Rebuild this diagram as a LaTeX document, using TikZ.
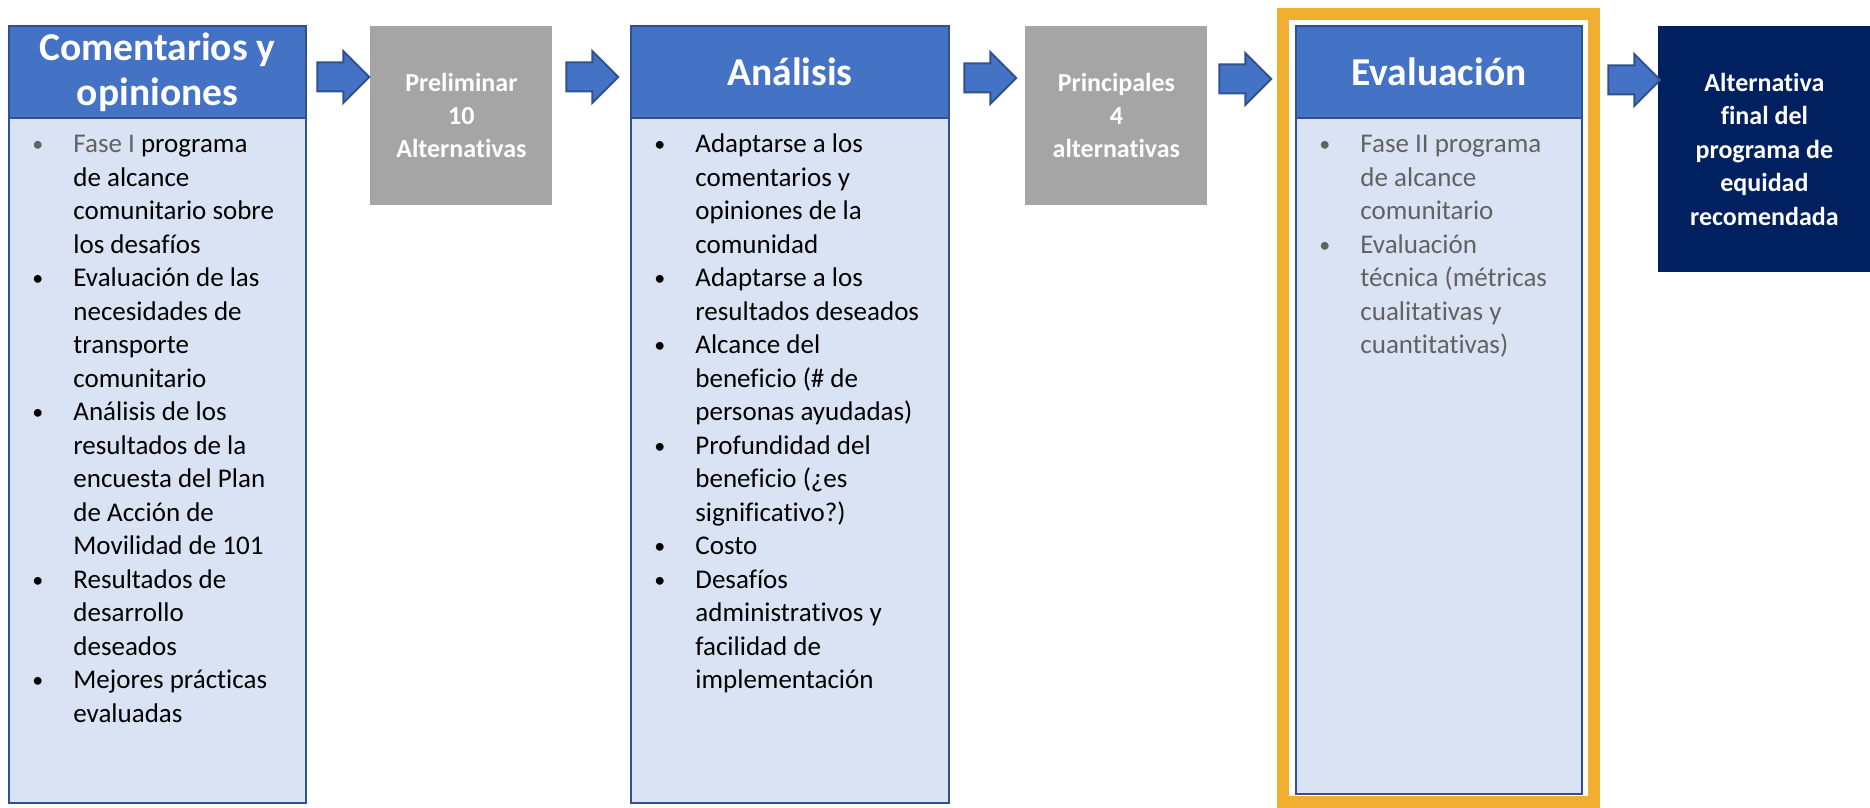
\documentclass[tikz,border=0pt]{standalone}
\usepackage{fontspec}
\setmainfont{Carlito}[Ligatures={NoCommon,NoContextual}]
\usetikzlibrary{shapes.arrows}
\definecolor{hdblue}{HTML}{4472C4}
\definecolor{lineblue}{HTML}{2F528F}
\definecolor{paleblue}{HTML}{DAE3F3}
\definecolor{midgray}{HTML}{A5A5A5}
\definecolor{navy}{HTML}{002060}
\definecolor{gold}{HTML}{F2AE30}
\definecolor{greytext}{HTML}{626262}
\newcommand{\bodylist}[1]{%
  \begin{tabular}[t]{@{}p{20.5pt}@{}l@{}}
    #1
  \end{tabular}
}
\newcommand{\bul}{\leavevmode\raisebox{0.6pt}{\fontsize{11}{11}\selectfont\textbullet}}
\newcommand{\gbul}{\leavevmode{\color{greytext}\bul}}

\begin{document}
\begin{tikzpicture}[x=0.5pt,y=-0.5pt,
      every node/.style={inner sep=0pt,font=\fontsize{13.5}{16.75}\selectfont},
      colbox/.style={draw=lineblue,line width=1pt,fill=paleblue,anchor=north west,minimum height=388.5pt},
      headbox/.style={draw=lineblue,line width=1pt,fill=hdblue,text=white,anchor=north,
        minimum height=46pt,align=center,font=\fontsize{19.75}{22.5}\selectfont\bfseries},
      greybox/.style={fill=midgray,text=white,anchor=north west,minimum width=91pt,
        minimum height=89.5pt,align=center,font=\fontsize{13}{16.5}\selectfont\bfseries},
      bodytext/.style={anchor=base west,align=left},
      blk/.style={single arrow,draw=lineblue,line width=1pt,fill=hdblue,minimum height=26pt,
        single arrow head extend=5.75pt,inner ysep=6.75pt,inner xsep=0pt}
    ]
      \useasboundingbox (0,0) rectangle (1870,808);
      \node[colbox,minimum width=148.5pt] (c1) at (8,25) {};
      \node[headbox,minimum width=148.5pt] (c1h) at (c1.north) {Comentarios y\\opiniones};
      \node[bodytext] (c1t) at (32,153) {\bodylist{%
        \gbul & {\color{greytext}Fase I} programa\\
        & de alcance\\
        & comunitario sobre\\
        & los desafíos\\
        \bul & Evaluación de las\\
        & necesidades de\\
        & transporte\\
        & comunitario\\
        \bul & Análisis de los\\
        & resultados de la\\
        & encuesta del Plan\\
        & de Acción de\\
        & Movilidad de 101\\
        \bul & Resultados de\\
        & desarrollo\\
        & deseados\\
        \bul & Mejores prácticas\\
        & evaluadas}};

      \node[greybox] (g1) at (370,26) {Preliminar\\10\\Alternativas};

      \node[colbox,minimum width=159pt] (c2) at (630,25) {};
      \node[headbox,minimum width=159pt] (c2h) at (c2.north) {Análisis};
      \node[bodytext] (c2t) at (654,153) {\bodylist{%
        \bul & Adaptarse a los\\
        & comentarios y\\
        & opiniones de la\\
        & comunidad\\
        \bul & Adaptarse a los\\
        & resultados deseados\\
        \bul & Alcance del\\
        & beneficio (\# de\\
        & personas ayudadas)\\
        \bul & Profundidad del\\
        & beneficio (¿es\\
        & significativo?)\\
        \bul & Costo\\
        \bul & Desafíos\\
        & administrativos y\\
        & facilidad de\\
        & implementación}};

      \node[greybox] (g2) at (1025,26) {Principales\\4\\alternativas};

      \node[draw=gold,line width=6pt,anchor=north west,minimum width=155.5pt,minimum height=394pt] (frame) at (1277,8) {};
      \node[colbox,minimum width=143pt,minimum height=384pt] (c3) at (1295,25) {};
      \node[headbox,minimum width=143pt] (c3h) at (c3.north) {Evaluación};
      \node[bodytext,text=greytext] (c3t) at (1319,153) {\bodylist{%
        \bul & Fase II programa\\
        & de alcance\\
        & comunitario\\
        \bul & Evaluación\\
        & técnica (métricas\\
        & cualitativas y\\
        & cuantitativas)}};

      \node[fill=navy,text=white,anchor=north west,minimum width=106pt,minimum height=123pt,
        align=center,font=\fontsize{13}{16.75}\selectfont\bfseries] (fin) at (1658,26)
        {Alternativa\\final del\\programa de\\equidad\\recomendada};

      \node[blk] (a1) at (336,77) {};
      \node[blk] (a2) at (585,77) {};
      \node[blk] (a3) at (983,78) {};
      \node[blk] (a4) at (1238,79) {};
      \node[blk] (a5) at (1627,80) {};
    \end{tikzpicture}
\end{document}
